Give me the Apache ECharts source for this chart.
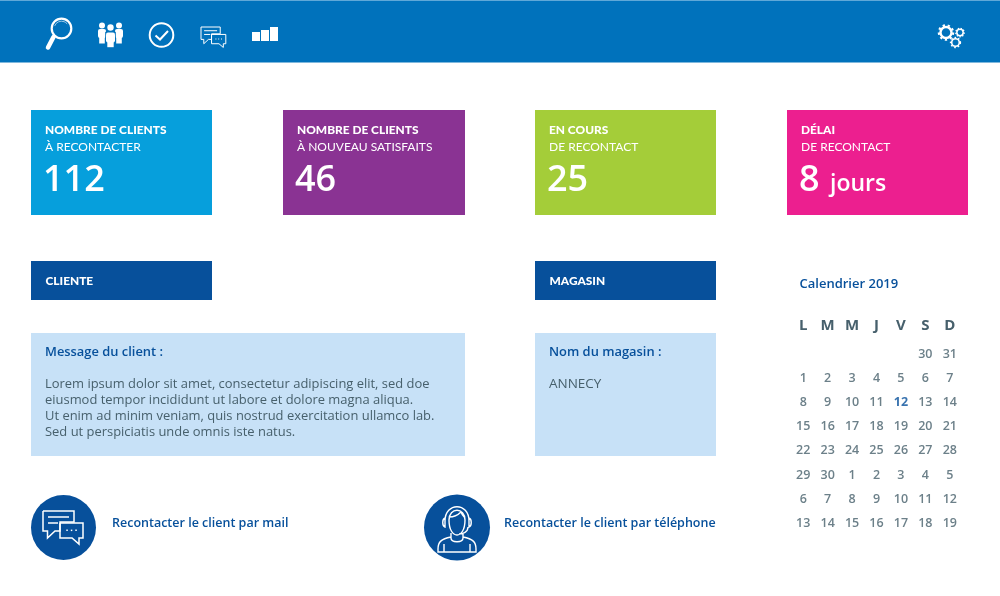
<!DOCTYPE html>
<html><head><meta charset="utf-8">
<style>html,body{margin:0;padding:0;background:#fff}#c{width:1000px;height:596px}</style>
<script src="https://cdn.jsdelivr.net/npm/echarts@6/dist/echarts.min.js"></script>
</head><body><div id="c"></div>
<script>
const kpiTitles = ['NOMBRE DE CLIENTS','NOMBRE DE CLIENTS','EN COURS','DÉLAI'];
const kpiSubtitles = ['À RECONTACTER','À NOUVEAU SATISFAITS','DE RECONTACT','DE RECONTACT'];
const kpiValues = ['112','46','25','8'];
const kpiUnits = ['','','','jours'];
const sectionTitles = ['CLIENTE','MAGASIN'];
const messageTitle = 'Message du client :';
const messageLines = [
 'Lorem ipsum dolor sit amet, consectetur adipiscing elit, sed doe',
 'eiusmod tempor incididunt ut labore et dolore magna aliqua.',
 'Ut enim ad minim veniam, quis nostrud exercitation ullamco lab.',
 'Sed ut perspiciatis unde omnis iste natus.'];
const storeTitle = 'Nom du magasin :';
const storeName = 'ANNECY';
const actionLabels = ['Recontacter le client par mail','Recontacter le client par téléphone'];
const calendarTitle = 'Calendrier 2019';
const weekDays = ['L','M','M','J','V','S','D'];
const week1 = ['','','','','',30,31];
const week2 = [1,2,3,4,5,6,7];
const week3 = [8,9,10,11,12,13,14];
const week4 = [15,16,17,18,19,20,21];
const week5 = [22,23,24,25,26,27,28];
const week6 = [29,30,1,2,3,4,5];
const week7 = [6,7,8,9,10,11,12];
const week8 = [13,14,15,16,17,18,19];
const calendarWeeks = [week1,week2,week3,week4,week5,week6,week7,week8];
const today = [4,2];

const BODY = '"Open Sans", sans-serif', HEAD = 'Lato, sans-serif';
const BLUE = '#07509b', BAND = '#0072bc', INK = '#47606c', W = '#fff';
const colX = [31,283,535,787], colW = [181,182,181,181];
const colors = ['#069fdc','#8a3393','#a4cd39','#ec1f8f'];
const g = [];
const rect = (x,y,w,h,fill) => g.push({type:'rect',shape:{x,y,width:w,height:h},style:{fill}});
const txt = (x,y,text,font,fill) => g.push({type:'text',style:{x,y:y+1,text,font,fill,textVerticalAlign:'middle'}});
const line = (pts,lw,cap) => g.push({type:'polyline',shape:{points:pts},style:{fill:'none',stroke:W,lineWidth:lw||1.5,lineCap:cap||'butt',lineJoin:'miter'}});
const circ = (cx,cy,r,st) => g.push({type:'circle',shape:{cx,cy,r},style:st});
const ring = (cx,cy,r,lw,dash) => circ(cx,cy,r,{fill:'none',stroke:W,lineWidth:lw||1.5,lineDash:dash||null});
const fillRect = (x,y,w,h,r) => g.push({type:'rect',shape:{x,y,width:w,height:h,r:r||0},style:{fill:W}});

/* header band */
rect(0,0,1000,62.5,BAND);
rect(0,0,1000,1,'#5fa8d8');

/* magnifier */
ring(61.5,28.5,9.8,2.2);
line([[53.5,37],[48,47.5]],4.5,'round');
g.push({type:'arc',shape:{cx:61.5,cy:28.5,r:7.3,startAngle:3.5,endAngle:5.6},style:{fill:'none',stroke:'#9dc9e8',lineWidth:1}});
/* people */
[[102,25.5,29],[119,25.5,29]].forEach(p=>{
  circ(p[0],p[1],3,{fill:W});
  fillRect(p[0]-4,p[2],8,9,2);
  fillRect(p[0]-2.8,p[2]+6,5.6,8.5,0);
});
g.push({type:'rect',shape:{x:105.2,y:31.8,width:10.6,height:16},style:{fill:BAND}});
circ(110.5,27.5,3.2,{fill:W});
fillRect(106,32.5,9,10,2);
fillRect(107.3,40,6.4,7.2,0);
/* check */
ring(161.5,35,11.8,2);
line([[155.5,35.5],[160,39.5],[168,31]],2);
/* chat icon */
function chat(ox,oy,s,lw){
  const P=(x,y)=>[ox+x*s,oy+y*s];
  line([P(0,0),P(31,0),P(31,11),P(17,11),P(17,20),P(12,20),P(4.5,27),P(4.5,20),P(0,20),P(0,0)],lw);
  line([P(5,6),P(26,6)],lw); line([P(5,12),P(15,12)],lw);
  line([P(17,12),P(40,12),P(40,27),P(36,27),P(36,33),P(29,27),P(17,27),P(17,12)],lw);
  [24,28.5,33].forEach(x=>fillRect(...P(x-.7,18.6),1.5*s,1.5*s));
}
chat(201,27,.62,1);
/* bars */
[[252,32,8,9],[261,30,8,11],[270,27,8,14]].forEach(b=>fillRect(b[0],b[1],b[2],b[3]));
/* gears */
[[946,32.5,5.5,2.4,4.2],[960,32.5,3.2,1.5,2.4],[955.5,42.5,3.8,1.6,3]].forEach(a=>{
  ring(a[0],a[1],a[2],a[3]);
  ring(a[0],a[1],a[2]+a[3]*.7,a[3]*.9,[a[4]*.55,a[4]*.65]);
});

/* KPI tiles */
kpiTitles.forEach((t,i)=>{
  const x=colX[i];
  rect(x,110,colW[i],105,colors[i]);
  txt(x+14,129,t,'900 11.9px '+HEAD,W);
  txt(x+14,146,kpiSubtitles[i],'12px '+HEAD,W);
  txt(x+12,180,kpiValues[i],'600 36px '+BODY,W);
  if(kpiUnits[i]) txt(x+43,183,kpiUnits[i],'600 23px '+BODY,W);
});
/* section bars */
[31,535].forEach((x,i)=>{
  rect(x,261,181,39,BLUE);
  txt(x+14.5,280,sectionTitles[i],'900 11.9px '+HEAD,W);
});
/* panels */
rect(31,333,434,123,'#c7e1f7');
rect(535,333,181,123,'#c7e1f7');
txt(45,351,messageTitle,'600 12.9px '+BODY,BLUE);
messageLines.forEach((l,i)=>txt(45,383+i*16.2,l,'12.95px '+BODY,INK));
txt(549,351,storeTitle,'600 12.9px '+BODY,BLUE);
txt(549,383.5,storeName,'13.5px '+BODY,INK);

/* action circles */
circ(63.5,527.5,32.5,{fill:BLUE});
circ(457,527.5,33,{fill:BLUE});
chat(43,511,1,1.5);
/* agent */
const agent = [
 'M 445 521 C 445 502 469 502 469 521',
 'M 449 520 C 449 507 465 507 465 520 C 465 530 461 535 457 535 C 453 535 449 530 449 520',
 'M 449 517 C 455 517 459 514 461 512 C 462 515 464 517 465 518',
 'M 445 518 C 442 519 442 526 445 527 Z M 469 518 C 472 519 472 526 469 527 Z',
 'M 468 527 C 468 532 463 534 459 534',
 'M 451 533 L 451 538 C 451 543 463 543 463 538 L 463 533',
 'M 451 537 C 441 539 438 542 438 549 L 438 552 L 476 552 L 476 549 C 476 542 473 539 463 537',
 'M 444 552 L 444 544 M 470 552 L 470 544'
].join(' ');
echarts.graphic.registerShape('agentIcon', echarts.graphic.extendPath(agent, {}));
g.push({type:'agentIcon',style:{fill:'none',stroke:W,lineWidth:1.4}});
txt(112,522,actionLabels[0],'600 12.5px '+BODY,BLUE);
txt(504,522,actionLabels[1],'600 12.5px '+BODY,BLUE);
/* calendar title */
txt(799.5,283,calendarTitle,'600 13px '+BODY,BLUE);

const dayData=[];
calendarWeeks.forEach((w,r)=>w.forEach((d,c)=>{ if(d!=='') dayData.push({value:[c,r],dayLabel:String(d),
  label:(c===today[0]&&r===today[1])?{color:BLUE,fontWeight:'bold'}:undefined}); }));

const chart=echarts.init(document.getElementById('c'),null,{renderer:'canvas'});
chart.setOption({
  animation:false,
  graphic:{elements:g},
  grid:{left:791,top:342,width:171,height:193.6,containLabel:false},
  xAxis:{type:'category',position:'top',data:weekDays.map((d,i)=>d+i),
    axisLine:{show:false},axisTick:{show:false},splitLine:{show:false},
    axisLabel:{interval:0,margin:9,formatter:(v)=>v[0],fontFamily:'"Open Sans"',fontWeight:'bold',fontSize:15,color:INK}},
  yAxis:{type:'category',inverse:true,data:calendarWeeks.map((_,i)=>'S'+i),show:false},
  series:[{type:'scatter',symbolSize:0,data:dayData,silent:true,
    label:{show:true,position:'inside',formatter:p=>p.data.dayLabel,fontFamily:'"Open Sans"',fontSize:12.5,fontWeight:600,color:INK}}]
});
</script></body></html>
